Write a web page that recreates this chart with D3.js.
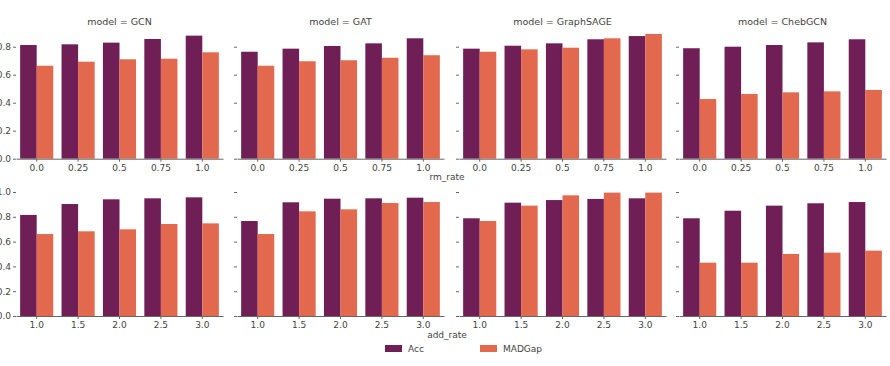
<!DOCTYPE html>
<html><head><meta charset="utf-8">
<script src="https://cdn.jsdelivr.net/npm/d3@7/dist/d3.min.js"></script>
<style>body{margin:0;background:#fff;} text{font-family:"DejaVu Sans",sans-serif;}</style>
</head><body><svg id="c" width="890" height="366"></svg>
<script>
const models = ["GCN", "GAT", "GraphSAGE", "ChebGCN"];
const rmRates = ["0.0", "0.25", "0.5", "0.75", "1.0"];
const addRates = ["1.0", "1.5", "2.0", "2.5", "3.0"];
const seriesNames = ["Acc", "MADGap"];
const yTicksTop = [0, 0.2, 0.4, 0.6, 0.8];
const yTicksBottom = [0, 0.2, 0.4, 0.6, 0.8, 1.0];
// rm_rate row
const rmAcc = {
  GCN: [0.812, 0.817, 0.829, 0.855, 0.879],
  GAT: [0.764, 0.786, 0.805, 0.824, 0.860],
  GraphSAGE: [0.786, 0.807, 0.824, 0.853, 0.876],
  ChebGCN: [0.789, 0.800, 0.812, 0.831, 0.853]
};
const rmMAD = {
  GCN: [0.664, 0.693, 0.710, 0.714, 0.760],
  GAT: [0.664, 0.696, 0.703, 0.721, 0.739],
  GraphSAGE: [0.764, 0.781, 0.793, 0.860, 0.891],
  ChebGCN: [0.426, 0.462, 0.474, 0.481, 0.491]
};
// add_rate row
const addAcc = {
  GCN: [0.815, 0.903, 0.941, 0.949, 0.957],
  GAT: [0.766, 0.917, 0.946, 0.949, 0.954],
  GraphSAGE: [0.788, 0.914, 0.935, 0.944, 0.949],
  ChebGCN: [0.788, 0.849, 0.890, 0.909, 0.919]
};
const addMAD = {
  GCN: [0.661, 0.683, 0.699, 0.742, 0.747],
  GAT: [0.661, 0.844, 0.860, 0.911, 0.919],
  GraphSAGE: [0.766, 0.890, 0.973, 0.995, 0.995],
  ChebGCN: [0.430, 0.430, 0.500, 0.511, 0.527]
};

const colors = ["#6f1f56", "#e2694e"];
const svg = d3.select("#c");
const colLefts = [16, 237, 459, 679];
const panelW = 207;
const rows = [
  {cats: rmRates, acc: rmAcc, mad: rmMAD, y0: 158.7, yMax: 0.93, pxPerUnit: 140, ticks: yTicksTop, title: true, xlab: "rm_rate", xlabY: 180, tickLabY: 170},
  {cats: addRates, acc: addAcc, mad: addMAD, y0: 316, yMax: 1.05, pxPerUnit: 124, ticks: yTicksBottom, title: false, xlab: "add_rate", xlabY: 338, tickLabY: 328}
];
const txt = "#444";

rows.forEach(row => {
  const y = d3.scaleLinear().domain([0, row.yMax]).range([row.y0, row.y0 - row.yMax * row.pxPerUnit]);
  models.forEach((m, ci) => {
    const left = colLefts[ci];
    const x = d3.scaleBand().domain(row.cats).range([left, left + panelW]).paddingInner(0.2).paddingOuter(0.1);
    const xs = d3.scaleBand().domain(seriesNames).range([0, x.bandwidth()]);
    const g = svg.append("g");
    const data = row.cats.map((c, i) => ({c, vals: [row.acc[m][i], row.mad[m][i]]}));
    data.forEach(d => {
      d.vals.forEach((v, si) => {
        g.append("rect")
          .attr("x", x(d.c) + xs(seriesNames[si]))
          .attr("y", y(v))
          .attr("width", xs.bandwidth())
          .attr("height", y(0) - y(v))
          .attr("fill", colors[si]);
      });
    });
    // x axis
    const xa = g.append("g").attr("transform", `translate(0,${row.y0})`)
      .call(d3.axisBottom(x).tickSize(3).tickSizeOuter(0));
    xa.select(".domain").attr("stroke", "#666");
    xa.selectAll(".tick line").attr("stroke", "#666");
    xa.selectAll("text").attr("fill", txt).style("font-size", "9px").attr("y", 6);
    // y axis
    const ya = g.append("g").attr("transform", `translate(${left},0)`)
      .call(d3.axisLeft(y).tickValues(row.ticks).tickSize(3).tickFormat(ci === 0 ? d3.format(".1f") : () => ""));
    ya.select(".domain").remove();
    ya.selectAll(".tick line").attr("stroke", "#666");
    ya.selectAll("text").attr("fill", txt).style("font-size", "9px").attr("x", -5);
    if (row.title) {
      g.append("text").attr("x", left + panelW / 2).attr("y", 25).attr("text-anchor", "middle")
        .attr("fill", txt).style("font-size", "9.5px").text("model = " + m);
    }
  });
  svg.append("text").attr("x", 447).attr("y", row.xlabY).attr("text-anchor", "middle")
    .attr("fill", txt).style("font-size", "9px").text(row.xlab);
});

// legend
const legX = [385, 480];
seriesNames.forEach((s, i) => {
  svg.append("rect").attr("x", legX[i]).attr("y", 345).attr("width", 17).attr("height", 7).attr("fill", colors[i]);
  svg.append("text").attr("x", legX[i] + 23).attr("y", 352).attr("fill", txt).style("font-size", "9px").text(s);
});
</script></body></html>
